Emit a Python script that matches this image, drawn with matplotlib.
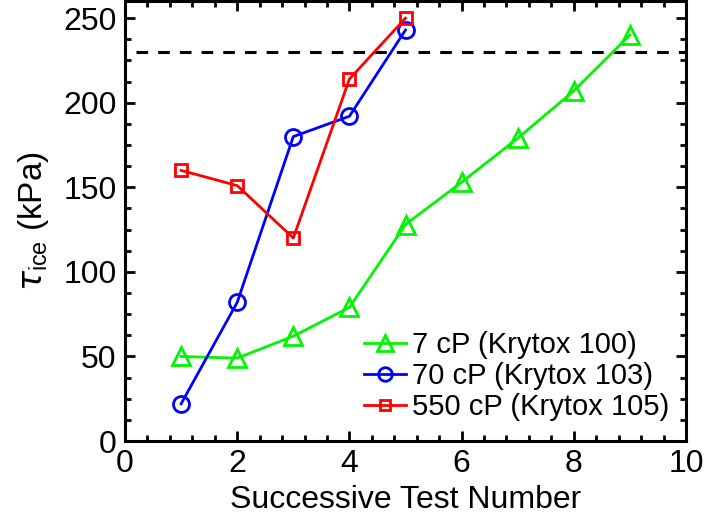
import matplotlib
matplotlib.use("Agg")
import matplotlib.pyplot as plt
from matplotlib.ticker import MultipleLocator

plt.rcParams['font.family'] = ['Liberation Sans', 'DejaVu Sans']
plt.rcParams['mathtext.fontset'] = 'custom'
plt.rcParams['mathtext.rm'] = 'Liberation Sans'
plt.rcParams['mathtext.it'] = 'DejaVu Sans:italic'

# Ice adhesion strength over successive icing/de-icing tests
test_7cp = [1, 2, 3, 4, 5, 6, 7, 8, 9]
tau_7cp = [50, 49, 62, 79, 128, 153, 179, 207, 240]

test_70cp = [1, 2, 3, 4, 5]
tau_70cp = [22, 82, 180, 192, 243]

test_550cp = [1, 2, 3, 4, 5]
tau_550cp = [160, 151, 120, 214, 250]

threshold = 230

labels = ["7 cP (Krytox 100)", "70 cP (Krytox 103)", "550 cP (Krytox 105)"]

fig = plt.figure(figsize=(7.04, 5.18), dpi=100)
ax = fig.add_axes([0.1776, 0.1486, 0.7968, 0.849])

ax.axhline(threshold, xmin=0.02, color='black', lw=2.2, ls=(0, (3.8, 3.3)), zorder=1)

green, blue, red = '#00f500', '#0000ff', '#ff0000'
ax.plot(test_7cp, tau_7cp, color=green, lw=2.0, marker='^', ms=13,
        mfc='none', mec=green, mew=2.0, label=labels[0])
ax.plot(test_70cp, tau_70cp, color=blue, lw=2.0, marker='o', ms=11.5,
        mfc='none', mec=blue, mew=2.0, label=labels[1])
ax.plot(test_550cp, tau_550cp, color=red, lw=2.0, marker='s', ms=8,
        mfc='none', mec=red, mew=2.0, label=labels[2])

ax.set_xlim(0, 10)
ax.set_ylim(0, 260)
ax.xaxis.set_major_locator(MultipleLocator(2))
ax.xaxis.set_minor_locator(MultipleLocator(0.4))
ax.yaxis.set_major_locator(MultipleLocator(50))
ax.yaxis.set_minor_locator(MultipleLocator(12.5))

ax.tick_params(which='both', direction='in', top=True, right=True,
               width=2.0, labelsize=23, pad=6)
ax.tick_params(which='major', length=7)
ax.tick_params(which='minor', length=4)
for s in ax.spines.values():
    s.set_linewidth(2.2)

ax.set_xlabel("Successive Test Number", fontsize=23, labelpad=4)
ax.set_ylabel(r"$\tau_{\mathrm{ice}}$ (kPa)", fontsize=24, labelpad=9)

leg = ax.legend(loc='lower right', bbox_to_anchor=(0.97, 0.045), frameon=False,
                fontsize=21, handlelength=1.45, handletextpad=0.2,
                labelspacing=0.1, markerscale=0.85, borderaxespad=0,
                borderpad=0)

fig.savefig("out.png", dpi=100)
